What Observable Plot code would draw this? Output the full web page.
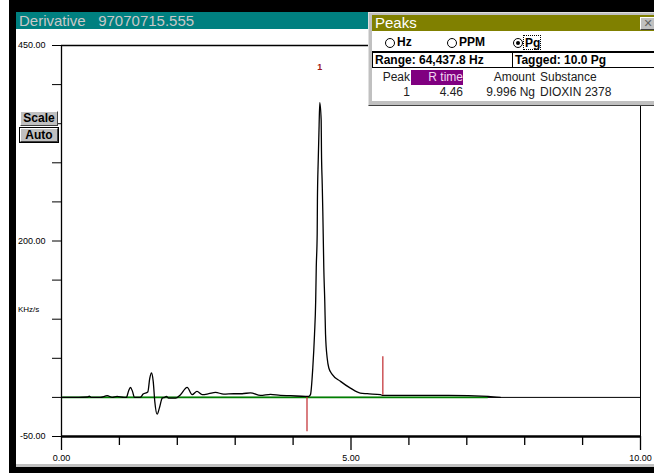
<!DOCTYPE html>
<html><head><meta charset="utf-8">
<script src="https://cdn.jsdelivr.net/npm/d3@7"></script>
<script src="https://cdn.jsdelivr.net/npm/@observablehq/plot@0.6"></script>
<style>
html,body{margin:0;padding:0;width:654px;height:473px;overflow:hidden;background:#fff;font-family:"Liberation Sans",Arial,sans-serif;}
.a{position:absolute;box-sizing:border-box;white-space:pre;}
.btn{background:#c0c0c0;border-top:1px solid #fff;border-left:1px solid #fff;border-right:1px solid #404040;border-bottom:1px solid #404040;font:bold 12px "Liberation Sans",Arial,sans-serif;text-align:center;color:#000;}
.radio{width:10px;height:10px;border-radius:50%;border:1px solid #000;background:#fff;}
.bold{font:bold 12px "Liberation Sans",Arial,sans-serif;color:#000;}
.reg{font:12px "Liberation Sans",Arial,sans-serif;color:#000;}
</style></head><body>
<div class="a" style="left:9px;top:0;width:645px;height:473px;background:#000"></div>
<div class="a" style="left:16px;top:29px;width:638px;height:435px;background:#fff"></div>
<div class="a" style="left:16px;top:464px;width:638px;height:3px;background:#c0c0c0"></div>
<div class="a" id="titlebar" style="left:16px;top:12px;width:638px;height:17px;background:#008080;color:#c8c8c8;font:15px 'Liberation Sans',Arial,sans-serif;line-height:17px;padding-left:3px"></div>
<div id="chart" class="a" style="left:0;top:0;z-index:1"></div>
<div class="a reg" id="ylabel" style="left:18px;top:305px;font-size:8px;z-index:2"></div>
<div class="a btn" id="btnScale" style="left:20px;top:111px;width:38px;height:15px;line-height:13px;z-index:2"></div>
<div class="a" style="left:19px;top:127px;width:40px;height:16px;background:#000;z-index:2"></div>
<div class="a btn" id="btnAuto" style="left:20px;top:128px;width:38px;height:14px;line-height:12px;z-index:3"></div>

<div class="a" style="left:368px;top:12px;width:290px;height:94px;background:#c0c0c0;border-top:1px solid #e0e0e0;border-left:1px solid #e0e0e0;border-bottom:1px solid #404040;z-index:4"></div>
<div class="a" id="peaksTitle" style="left:372px;top:15px;width:286px;height:16px;background:#808000;color:#fff;font:15px 'Liberation Sans',Arial,sans-serif;line-height:16px;padding-left:3px;z-index:5"></div>
<div class="a btn" style="left:640px;top:17px;width:16px;height:13px;font:bold 11px 'DejaVu Sans',sans-serif;line-height:11px;color:#606060;z-index:6">✕</div>
<div class="a" style="left:372px;top:31px;width:286px;height:70px;background:#fff;z-index:5"></div>
<div class="a radio" style="left:385px;top:38px;z-index:6"></div>
<div class="a bold" id="rHz" style="left:397px;top:35px;z-index:6"></div>
<div class="a radio" style="left:447px;top:38px;z-index:6"></div>
<div class="a bold" id="rPPM" style="left:459px;top:35px;z-index:6"></div>
<div class="a radio" style="left:513px;top:38px;z-index:6"></div>
<div class="a" style="left:516px;top:41px;width:4px;height:4px;background:#000;border-radius:50%;z-index:7"></div>
<div class="a bold" id="rPg" style="left:523px;top:35px;width:18px;height:15px;border:1px dotted #000;padding-left:1px;z-index:6"></div>
<div class="a bold" id="range" style="left:372px;top:51px;width:141px;height:17px;border:1px solid #000;border-top-width:2px;line-height:14px;padding-left:2px;z-index:6"></div>
<div class="a bold" id="tagged" style="left:512px;top:51px;width:150px;height:17px;border:1px solid #000;border-top-width:2px;line-height:14px;padding-left:2px;z-index:6"></div>
<div class="a reg" id="hPeak" style="left:370px;top:70px;width:40px;text-align:right;line-height:14px;color:#202020;z-index:6"></div>
<div class="a reg" id="hRtime" style="left:411px;top:70px;width:52px;height:15px;background:#800080;color:#f0d8f0;text-align:right;line-height:14px;z-index:6"></div>
<div class="a reg" id="hAmount" style="left:470px;top:70px;width:65px;text-align:right;line-height:14px;color:#202020;z-index:6"></div>
<div class="a reg" id="hSubst" style="left:540px;top:70px;line-height:14px;color:#202020;z-index:6"></div>
<div class="a reg" id="c1" style="left:370px;top:86px;width:40px;text-align:right;line-height:13px;color:#202020;z-index:6"></div>
<div class="a reg" id="c2" style="left:411px;top:86px;width:52px;text-align:right;line-height:13px;color:#202020;z-index:6"></div>
<div class="a reg" id="c3" style="left:470px;top:86px;width:65px;text-align:right;line-height:13px;color:#202020;z-index:6"></div>
<div class="a reg" id="c4" style="left:540px;top:86px;line-height:13px;color:#202020;z-index:6"></div>
<script>
// ---- texts ----
const titleText = "Derivative   97070715.555";
const yUnitLabel = "KHz/s";
const buttonLabels = ["Scale", "Auto"];
const peaksWindowTitle = "Peaks";
const radioLabels = ["Hz", "PPM", "Pg"];
const rangeText = "Range: 64,437.8 Hz";
const taggedText = "Tagged: 10.0 Pg";
const tableHeaders = ["Peak", "R time", "Amount", "Substance"];
const tableRow = ["1", "4.46", "9.996 Ng", "DIOXIN 2378"];

// ---- chart data ----
const xDomain = [0, 10];
const yDomain = [-50, 450];
const yMajorTicks = [450, 200, -50];
const yMinorTicks = [400, 350, 300, 250, 150, 100, 50, 0];
const xMajorTicks = [0, 5, 10];
const xMinorTicks = [1, 2, 3, 4, 6, 7, 8, 9];

const times = [0.02,0.30,0.45,0.48,0.51,0.67,0.79,0.875,0.96,1.08,1.12,1.16,1.19,1.226,1.26,1.36,1.41,1.49,1.525,1.554,1.584,1.611,1.652,1.69,1.74,1.78,1.81,1.85,1.97,2.055,2.17,2.257,2.34,2.43,2.544,2.66,2.80,2.976,3.12,3.264,3.437,3.61,3.78,3.955,4.214,4.27,4.30,4.34,4.37,4.39,4.40,4.416,4.42,4.434,4.447,4.461,4.485,4.49,4.503,4.513,4.52,4.53,4.547,4.56,4.589,4.617,4.675,4.819,4.99,5.16,5.28,5.51,5.54,6.68,7.37,7.58];
const values = [0,0,0.5,1.5,0,0,2.2,0,1.3,0,0,8.6,12.8,7.7,0,0,4.2,6.8,24.7,31.2,20.5,-5,-21.4,-13.7,-0.9,0,1.3,-0.9,-0.9,3.5,12.8,3.5,7.7,3.5,4.7,6.4,4.2,4.7,4.7,5.9,2.6,3.9,2.6,2.2,1.3,1.3,3.5,37.6,80.8,123,166,209,251,303,341,377,354,315,273,238,209,166,123,81,50,37.6,29.5,20.5,11.9,5.5,4.7,3.5,2.6,2.6,1.3,0];

const baselineFrom = [0];
const baselineTo = [7.37];
const baselineLevel = [0];

const markerTimes = [4.24, 5.55];
const markerLow = [-44, 2.6];
const markerHigh = [0, 52];

const peakLabelTimes = [4.46];
const peakLabelValues = [422];
const peakLabels = ["1"];

// ---- fill texts ----
document.getElementById("titlebar").textContent = titleText;
document.getElementById("ylabel").textContent = yUnitLabel;
document.getElementById("btnScale").textContent = buttonLabels[0];
document.getElementById("btnAuto").textContent = buttonLabels[1];
document.getElementById("peaksTitle").textContent = peaksWindowTitle;
document.getElementById("rHz").textContent = radioLabels[0];
document.getElementById("rPPM").textContent = radioLabels[1];
document.getElementById("rPg").textContent = radioLabels[2];
document.getElementById("range").textContent = rangeText;
document.getElementById("tagged").textContent = taggedText;
["hPeak","hRtime","hAmount","hSubst"].forEach((id,i)=>document.getElementById(id).textContent = tableHeaders[i]);
["c1","c2","c3","c4"].forEach((id,i)=>document.getElementById(id).textContent = tableRow[i]);

const idx = d3.range(times.length);
const fmt = d => d.toFixed(2);

const chart = Plot.plot({
  width: 654,
  height: 473,
  marginLeft: 61,
  marginRight: 14,
  marginTop: 45,
  marginBottom: 37,
  x: {domain: xDomain},
  y: {domain: yDomain},
  style: {background: "transparent", color: "black", fontFamily: "'Liberation Sans', Arial, sans-serif", fontSize: "9px", overflow: "visible"},
  marks: [
    Plot.ruleY([0], {stroke: "black", strokeWidth: 1}),
    Plot.ruleY([0], {y: baselineLevel, x1: baselineFrom, x2: baselineTo, stroke: "#008000", strokeWidth: 1.6}),
    Plot.line(idx, {x: i => times[i], y: i => values[i], stroke: "black", strokeWidth: 1.3, curve: "monotone-x"}),
    Plot.ruleX(d3.range(markerTimes.length), {x: i => markerTimes[i], y1: i => markerLow[i], y2: i => markerHigh[i], stroke: "#c0282d", strokeWidth: 1.2}),
    Plot.text(d3.range(peakLabels.length), {x: i => peakLabelTimes[i], y: i => peakLabelValues[i], text: i => peakLabels[i], fill: "#a01818", fontWeight: "bold", fontSize: 9}),
    Plot.ruleX([xDomain[0]], {stroke: "black", strokeWidth: 1.3}),
    Plot.ruleX([xDomain[1]], {stroke: "black", strokeWidth: 1}),
    Plot.ruleY([yDomain[1]], {stroke: "black", strokeWidth: 1.3}),
    Plot.ruleY([yDomain[0]], {stroke: "black", strokeWidth: 2.5}),
    Plot.axisY(yMajorTicks, {tickSize: 9, tickPadding: 7, tickFormat: fmt, label: null, stroke: "black"}),
    Plot.axisY(yMinorTicks, {tickSize: 9, tickFormat: () => "", label: null, stroke: "black"}),
    Plot.axisX(xMajorTicks, {tickSize: 14, tickPadding: 4, tickFormat: fmt, label: null, stroke: "black", strokeWidth: 1.3}),
    Plot.axisX(xMinorTicks, {tickSize: 9, tickFormat: () => "", label: null, stroke: "black", strokeWidth: 1.3})
  ]
});
document.getElementById("chart").appendChild(chart);
</script>
</body></html>
